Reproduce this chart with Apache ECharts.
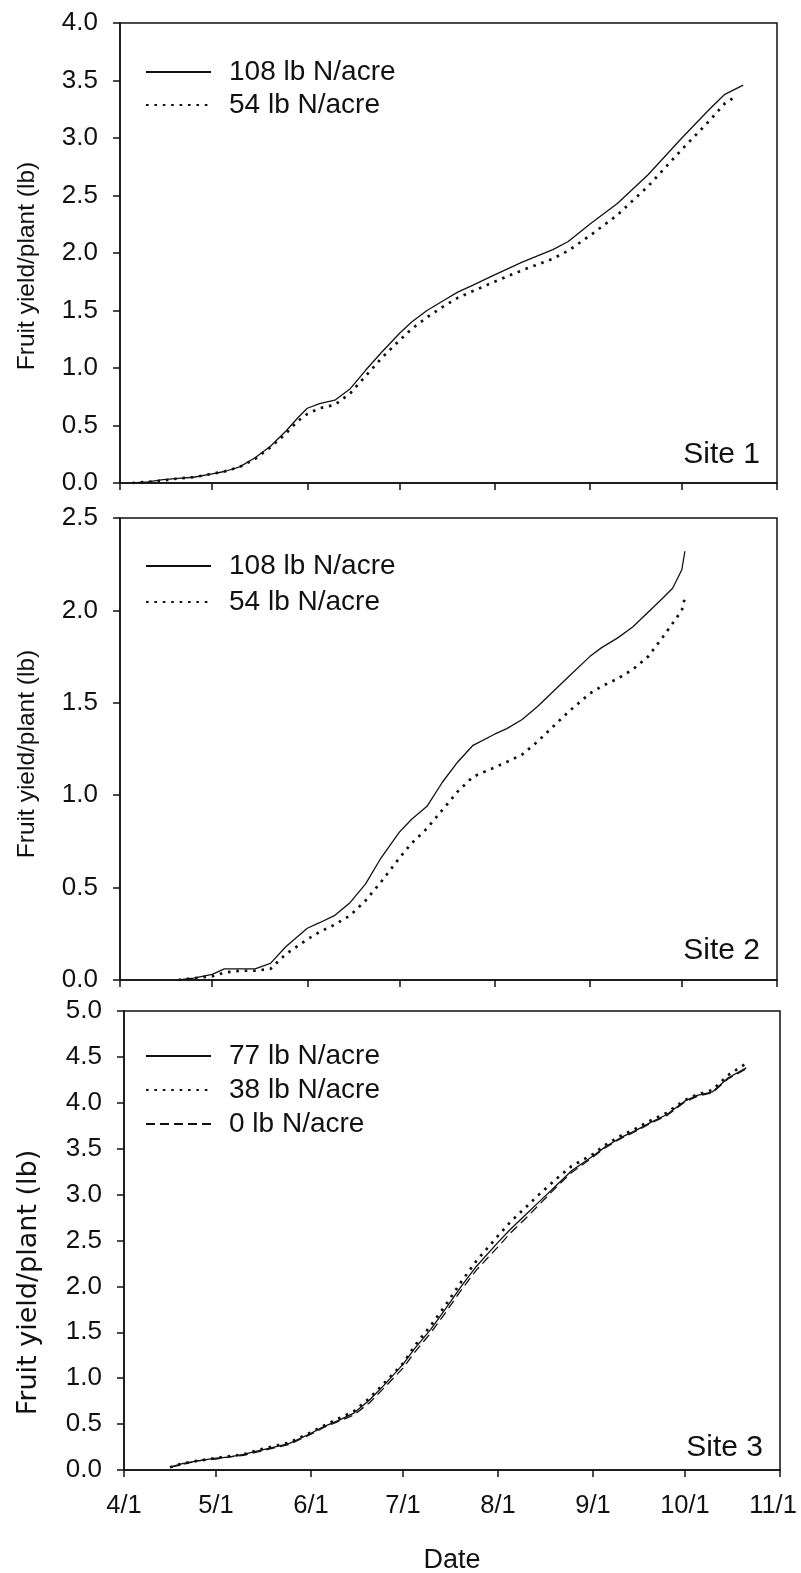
<!DOCTYPE html>
<html>
<head>
<meta charset="utf-8">
<script src="https://cdn.jsdelivr.net/npm/echarts@6/dist/echarts.min.js"></script>
<style>
  html, body { margin: 0; padding: 0; background: #fff; }
  #chart { width: 801px; height: 1573px; }
</style>
</head>
<body>
<div id="chart"></div>
<script>
// Month ticks shared by all three panels
const monthTicks = ['4/1', '5/1', '6/1', '7/1', '8/1', '9/1', '10/1', '11/1'];

// Site 1 cumulative fruit yield (lb/plant)
const site1Dates108 = ['4/5','4/10','4/15','4/20','4/25','5/1','5/5','5/10','5/15','5/20','5/25','5/29','6/1','6/5','6/10','6/15','6/20','6/25','7/1','7/5','7/10','7/15','7/20','7/25','8/1','8/10','8/20','8/25','9/1','9/10','9/20','10/1','10/10','10/15','10/21'];
const site1N108 = [0,0.01,0.03,0.04,0.05,0.08,0.10,0.14,0.22,0.32,0.45,0.57,0.65,0.69,0.72,0.82,0.98,1.13,1.30,1.40,1.50,1.58,1.66,1.72,1.81,1.92,2.03,2.10,2.25,2.43,2.68,3.00,3.25,3.38,3.46];
const site1Dates54 = ['4/5','4/10','4/15','4/20','4/25','5/1','5/5','5/10','5/15','5/20','5/25','5/29','6/1','6/5','6/10','6/15','6/20','6/25','7/1','7/5','7/10','7/15','7/20','7/25','8/1','8/10','8/20','8/25','9/1','9/10','9/20','10/1','10/10','10/15','10/19'];
const site1N54 = [0,0.01,0.02,0.04,0.05,0.08,0.10,0.14,0.21,0.31,0.43,0.54,0.60,0.65,0.68,0.78,0.93,1.08,1.24,1.34,1.44,1.53,1.61,1.67,1.75,1.85,1.95,2.02,2.15,2.33,2.58,2.90,3.15,3.30,3.37];

// Site 2 cumulative fruit yield (lb/plant)
const site2Dates = ['4/20','4/25','5/1','5/5','5/10','5/15','5/20','5/25','6/1','6/5','6/10','6/15','6/20','6/25','7/1','7/5','7/10','7/15','7/20','7/25','8/1','8/5','8/10','8/15','8/20','8/25','9/1','9/5','9/10','9/15','9/20','9/25','9/28','10/1','10/2'];
const site2N108 = [0,0.01,0.03,0.06,0.06,0.06,0.09,0.18,0.28,0.31,0.35,0.42,0.52,0.66,0.80,0.87,0.94,1.07,1.18,1.27,1.33,1.36,1.41,1.48,1.56,1.64,1.75,1.80,1.85,1.91,1.99,2.07,2.12,2.22,2.32];
const site2N54 = [0,0.01,0.02,0.04,0.05,0.05,0.06,0.14,0.22,0.26,0.30,0.35,0.43,0.53,0.66,0.74,0.82,0.92,1.02,1.10,1.15,1.18,1.22,1.29,1.37,1.45,1.55,1.59,1.63,1.68,1.75,1.86,1.93,2.00,2.07];

// Site 3 cumulative fruit yield (lb/plant)
const site3Dates = ['4/16','4/20','4/25','5/1','5/5','5/10','5/15','5/20','5/25','6/1','6/5','6/10','6/15','6/20','6/25','7/1','7/5','7/10','7/15','7/20','7/25','8/1','8/5','8/10','8/15','8/20','8/25','9/1','9/5','9/10','9/15','9/20','9/25','10/1','10/5','10/10','10/15','10/21'];
const site3N77 = [0.03,0.07,0.10,0.13,0.14,0.17,0.21,0.25,0.29,0.40,0.47,0.54,0.62,0.76,0.93,1.15,1.33,1.53,1.76,2.00,2.22,2.48,2.62,2.78,2.94,3.10,3.26,3.42,3.52,3.62,3.70,3.79,3.87,4.02,4.08,4.12,4.27,4.38];
const site3N38 = [0.03,0.07,0.10,0.13,0.15,0.17,0.22,0.26,0.30,0.41,0.48,0.56,0.64,0.78,0.95,1.16,1.36,1.57,1.80,2.05,2.28,2.55,2.70,2.86,3.02,3.17,3.31,3.44,3.54,3.64,3.72,3.81,3.89,4.03,4.09,4.14,4.30,4.43];
const site3N0 = [0.03,0.06,0.10,0.12,0.14,0.16,0.20,0.24,0.28,0.39,0.46,0.53,0.60,0.73,0.90,1.11,1.29,1.49,1.72,1.96,2.18,2.43,2.58,2.74,2.91,3.08,3.24,3.41,3.51,3.61,3.69,3.78,3.86,4.01,4.07,4.11,4.26,4.37];

// Days elapsed since 4/1 for an "M/D" string
function dayOf(md) {
  const [m, d] = md.split('/').map(Number);
  return Math.round((Date.UTC(2000, m - 1, d) - Date.UTC(2000, 3, 1)) / 86400000);
}
const tickDays = monthTicks.map(dayOf);
function pairs(dates, vals) { return dates.map((d, i) => [dayOf(d), vals[i]]); }

const FONT = 'Liberation Sans, Arial, sans-serif';
const WIDE = '"DejaVu Sans", "Liberation Sans", sans-serif';
const INK = '#111';

const solid = { color: INK, width: 1.3, type: 'solid' };
const dotted = { color: INK, width: 2.7, type: [2.6, 5.8], cap: 'butt' };
const dashed = { color: INK, width: 1.3, type: [9, 5] };

const grids = [
  { left: 120, top: 23, width: 657, height: 460 },
  { left: 120, top: 518, width: 657, height: 462 },
  { left: 124, top: 1011, width: 656, height: 459 }
];

// Month label; the last one is nudged left so it stays inside the page
function monthLabel(v) {
  const i = tickDays.indexOf(Math.round(v));
  if (i < 0) return '';
  return i === monthTicks.length - 1 ? '{edge|' + monthTicks[i] + '}' : monthTicks[i];
}

function xAxis(i, labelled) {
  return {
    type: 'value', gridIndex: i, min: 0, max: 214,
    axisLine: { lineStyle: { color: INK, width: 1.5 } },
    splitLine: { show: false },
    axisTick: { show: true, length: 7, inside: false, customValues: tickDays, lineStyle: { color: INK, width: 1.5 } },
    axisLabel: {
      show: labelled, customValues: tickDays, margin: 23, hideOverlap: false,
      formatter: monthLabel,
      fontFamily: FONT, fontSize: 25.5, color: INK,
      rich: { edge: { fontFamily: FONT, fontSize: 25.5, color: INK, padding: [0, 14, 0, 0] } }
    },
    name: labelled ? 'Date' : '', nameLocation: 'middle', nameGap: 77,
    nameTextStyle: { fontFamily: FONT, fontSize: 27, color: INK }
  };
}
function yAxis(i, max, nameStyle, gap) {
  return {
    type: 'value', gridIndex: i, min: 0, max: max, interval: 0.5,
    axisLine: { show: true, lineStyle: { color: INK, width: 1.5 } },
    splitLine: { show: false },
    axisTick: { show: true, length: 7, lineStyle: { color: INK, width: 1.5 } },
    axisLabel: { margin: 22, formatter: v => v.toFixed(1), fontFamily: FONT, fontSize: 26, color: INK },
    name: 'Fruit yield/plant (lb)', nameLocation: 'middle', nameGap: gap,
    nameTextStyle: Object.assign({ color: INK }, nameStyle)
  };
}
function line(name, i, data, style) {
  return {
    name: name, type: 'line', xAxisIndex: i, yAxisIndex: i, data: data,
    symbol: 'none', showSymbol: false, lineStyle: style, itemStyle: { color: INK },
    silent: true, animation: false, z: 3
  };
}
function legend(names, top, gap) {
  return {
    data: names, orient: 'vertical', left: 145, top: top, padding: 0,
    itemWidth: 65, itemHeight: 20, itemGap: gap, selectedMode: false,
    itemStyle: { opacity: 0 },
    textStyle: { fontFamily: FONT, fontSize: 28, color: INK, padding: [0, 0, 0, 13] }
  };
}
function siteLabel(text, right, top) {
  return { text: text, right: right, top: top, padding: 0,
    textStyle: { fontFamily: FONT, fontSize: 30, fontWeight: 'normal', color: INK } };
}

const chart = echarts.init(document.getElementById('chart'), null, { renderer: 'canvas' });
chart.setOption({
  backgroundColor: '#fff',
  animation: false,
  grid: grids.map(g => Object.assign({
    show: true, borderColor: INK, borderWidth: 1.5, backgroundColor: 'transparent',
    containLabel: false, outerBoundsMode: 'none'
  }, g)),
  xAxis: [xAxis(0, false), xAxis(1, false), xAxis(2, true)],
  yAxis: [
    yAxis(0, 4, { fontFamily: FONT, fontSize: 24.5, padding: [0, 26, 0, 0] }, 80),
    yAxis(1, 2.5, { fontFamily: FONT, fontSize: 24.5, padding: [0, 10, 0, 0] }, 80),
    yAxis(2, 5, { fontFamily: WIDE, fontSize: 27, padding: [0, 84, 0, 0] }, 82)
  ],
  legend: [
    legend(['108 lb N/acre', '54 lb N/acre'], 58, 5),
    legend(['108 lb N/acre', '54 lb N/acre'], 552, 8),
    legend(['77 lb N/acre', '38 lb N/acre', '0 lb N/acre'], 1042, 6)
  ],
  title: [
    siteLabel('Site 1', 41, 440),
    siteLabel('Site 2', 41, 936),
    siteLabel('Site 3', 38, 1433)
  ],
  series: [
    line('108 lb N/acre', 0, pairs(site1Dates108, site1N108), solid),
    line('54 lb N/acre', 0, pairs(site1Dates54, site1N54), dotted),
    line('108 lb N/acre', 1, pairs(site2Dates, site2N108), solid),
    line('54 lb N/acre', 1, pairs(site2Dates, site2N54), dotted),
    line('77 lb N/acre', 2, pairs(site3Dates, site3N77), solid),
    line('38 lb N/acre', 2, pairs(site3Dates, site3N38), dotted),
    line('0 lb N/acre', 2, pairs(site3Dates, site3N0), dashed)
  ]
});
</script>
</body>
</html>
